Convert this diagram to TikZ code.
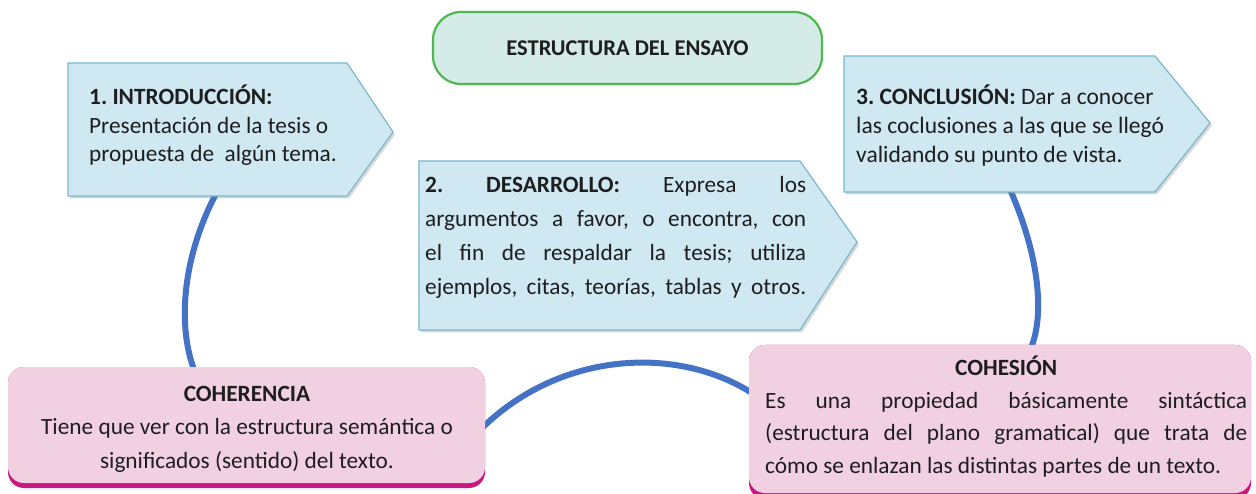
\documentclass[tikz,border=0pt]{standalone}
\usepackage{fontspec}
\setmainfont{Carlito}
\usetikzlibrary{shadows}
\definecolor{boxblue}{HTML}{CFE8F1}
\definecolor{edgeblue}{HTML}{78B9CD}
\definecolor{titlefill}{HTML}{D4EBE7}
\definecolor{titleedge}{HTML}{4DB84F}
\definecolor{pinkfill}{HTML}{F1D0E2}
\definecolor{magentaedge}{HTML}{C8177E}
\definecolor{arcblue}{HTML}{4472C4}
\definecolor{ink}{HTML}{1E1E1E}
\frenchspacing
\begin{document}
\frenchspacing
\begin{tikzpicture}[x=1pt,y=-1pt,
  pentabox/.style={fill=boxblue, draw=edgeblue, line width=1.2pt,
    drop shadow={shadow xshift=2pt, shadow yshift=-2.5pt, opacity=0.3, fill=gray}},
  pinkbase/.style={fill=magentaedge, rounded corners=16pt},
  pinktop/.style={fill=pinkfill, rounded corners=16pt},
  arc/.style={draw=arcblue, line width=6pt},
  txt/.style={inner sep=0pt, text=ink},
]
\useasboundingbox (0,0) rectangle (1256,494);
\fill[white] (0,0) rectangle (1256,494);

% anchor coordinates for the connectors
\coordinate (introfoot) at (218,190);
\coordinate (cohertop) at (195,372);
\coordinate (coherright) at (480,430);
\coordinate (coheleft) at (755,395);
\coordinate (conclfoot) at (1008,185);
\coordinate (cohetop) at (1030,350);

% connectors (behind boxes)
\draw[arc] (introfoot) .. controls (180,260) and (178,330) .. (cohertop);
\draw[arc] (coherright) .. controls (560,350) and (680,345) .. (coheleft);
\draw[arc] (conclfoot) .. controls (1042,260) and (1044,320) .. (cohetop);

% title
\node[txt, draw=titleedge, fill=titlefill, line width=2.2pt, rounded corners=28pt,
  minimum width=389pt, minimum height=72pt, font=\bfseries\fontsize{22.5}{27}\selectfont]
  (title) at (627.5,48) {ESTRUCTURA DEL ENSAYO};

% pentagon boxes
\path[pentabox] (68,63) -- (347,63) -- (393,132) -- (347,196) -- (68,196) -- cycle;
\path[pentabox] (844,56) -- (1155,56) -- (1210,123) -- (1155,192) -- (844,192) -- cycle;
\path[pentabox] (419,161) -- (800,161) -- (857,242) -- (800,330) -- (419,330) -- cycle;

% multi-line nodes without text width: base = last line
\node[txt, anchor=base west, align=left, font=\fontsize{23.3}{28.5}\selectfont] (intro) at (89,162)
  {\textbf{1. INTRODUCCIÓN:}\\Presentación de la tesis o\\propuesta de\ \ algún tema.};

\node[txt, anchor=base west, align=left, font=\fontsize{23.5}{29}\selectfont] (concl) at (856,163)
  {\textbf{3. CONCLUSIÓN:} Dar a conocer\\las coclusiones a las que se llegó\\validando su punto de vista.};

\node[txt, anchor=base west, text width=381pt, align=justify, font=\fontsize{23.3}{34}\selectfont] (desa) at (425,193)
  {\parfillskip=0pt
   \textbf{2.} \hfill \textbf{DESARROLLO:} \hfill Expresa \hfill los\linebreak
   argumentos a favor, o encontra, con\linebreak
   el fin de respaldar la tesis; utiliza\linebreak
   ejemplos, citas, teorías, tablas y otros.\par};

% pink boxes
\fill[pinkbase] (8,367) rectangle (485,488);
\fill[pinktop] (8,367) rectangle (485,483);
\node[txt, anchor=base, align=center, font=\fontsize{23.3}{33.5}\selectfont] (coher) at (247,468)
  {\textbf{COHERENCIA}\\Tiene que ver con la estructura semántica o\\significados (sentido) del texto.};

\fill[pinkbase] (749,345) rectangle (1251,499);
\fill[pinktop] (749,345) rectangle (1251,493);
\node[txt, anchor=base west, text width=482pt, align=justify, font=\fontsize{23.3}{33}\selectfont] (cohe) at (765,375)
  {\centerline{\textbf{COHESIÓN}}\par
   Es una propiedad básicamente sintáctica\linebreak
   (estructura del plano gramatical) que trata de\linebreak
   cómo se enlazan las distintas partes de un texto.};
\end{tikzpicture}
\end{document}
